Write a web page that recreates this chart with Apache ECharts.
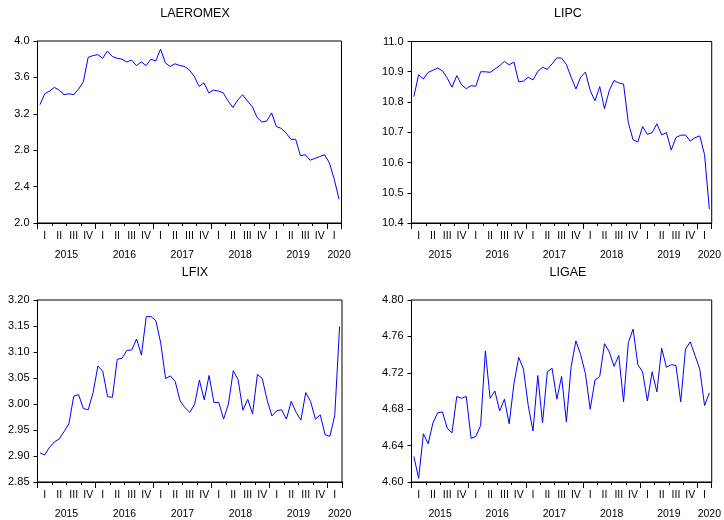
<!DOCTYPE html>
<html>
<head>
<meta charset="utf-8">
<script src="https://cdn.jsdelivr.net/npm/echarts@6/dist/echarts.min.js"></script>
<style>
html,body{margin:0;padding:0;background:#fff;}
#chart{width:724px;height:520px;}
</style>
</head>
<body>
<div id="chart"></div>
<script>
// ---- data ----
var years = ['2015', '2016', '2017', '2018', '2019', '2020'];
var quarterLabels = ['I', 'II', 'III', 'IV'];
var monthsPerYearShown = [12, 12, 12, 12, 12, 3];

var laeromex = [3.30, 3.42, 3.45, 3.49, 3.46, 3.41, 3.42, 3.41, 3.47, 3.55, 3.82, 3.84,
  3.85, 3.81, 3.89, 3.83, 3.81, 3.80, 3.77, 3.79, 3.73, 3.77, 3.73, 3.80,
  3.78, 3.91, 3.76, 3.72, 3.75, 3.73, 3.72, 3.68, 3.61, 3.50, 3.54, 3.43,
  3.46, 3.45, 3.43, 3.34, 3.27, 3.35, 3.41, 3.34, 3.28, 3.16, 3.11, 3.12,
  3.21, 3.06, 3.04, 2.99, 2.92, 2.92, 2.74, 2.75, 2.69, 2.71, 2.73, 2.75,
  2.66, 2.48, 2.26];

var lipc = [10.818, 10.890, 10.876, 10.898, 10.905, 10.912, 10.903, 10.879, 10.849, 10.887, 10.857, 10.844,
  10.854, 10.852, 10.900, 10.900, 10.898, 10.909, 10.920, 10.934, 10.923, 10.932, 10.867, 10.869,
  10.882, 10.873, 10.901, 10.915, 10.908, 10.926, 10.946, 10.945, 10.924, 10.882, 10.843, 10.882,
  10.899, 10.838, 10.804, 10.851, 10.778, 10.838, 10.871, 10.863, 10.859, 10.732, 10.675, 10.668,
  10.719, 10.693, 10.699, 10.728, 10.691, 10.699, 10.641, 10.683, 10.690, 10.691, 10.671, 10.682,
  10.688, 10.626, 10.446];

var lfix = [2.906, 2.902, 2.917, 2.927, 2.933, 2.947, 2.962, 3.015, 3.018, 2.991, 2.989, 3.022,
  3.073, 3.063, 3.014, 3.013, 3.086, 3.088, 3.103, 3.104, 3.125, 3.094, 3.168, 3.168,
  3.160, 3.117, 3.049, 3.054, 3.043, 3.006, 2.993, 2.984, 2.999, 3.046, 3.008, 3.055,
  3.003, 3.003, 2.971, 3.000, 3.064, 3.047, 2.988, 3.009, 2.981, 3.057, 3.049, 3.008,
  2.977, 2.987, 2.989, 2.971, 3.005, 2.984, 2.969, 3.022, 3.005, 2.971, 2.979, 2.941,
  2.938, 2.978, 3.149];

var ligae = [4.628, 4.604, 4.653, 4.642, 4.665, 4.676, 4.677, 4.659, 4.654, 4.694, 4.692, 4.694,
  4.648, 4.650, 4.662, 4.744, 4.692, 4.700, 4.678, 4.691, 4.664, 4.708, 4.737, 4.724,
  4.684, 4.656, 4.717, 4.665, 4.721, 4.725, 4.691, 4.716, 4.666, 4.727, 4.755, 4.740,
  4.719, 4.680, 4.712, 4.716, 4.752, 4.743, 4.727, 4.739, 4.688, 4.753, 4.768, 4.729,
  4.721, 4.689, 4.721, 4.699, 4.747, 4.726, 4.729, 4.728, 4.688, 4.746, 4.754, 4.739,
  4.724, 4.684, 4.698];

// ---- categories (months) ----
var months = [];
years.forEach(function (y, yi) {
  for (var m = 1; m <= monthsPerYearShown[yi]; m++) {
    months.push(y + 'M' + (m < 10 ? '0' + m : m));
  }
});

var panels = [
  { name: 'LAEROMEX', data: laeromex, min: 2.0, max: 4.0, interval: 0.4, dec: 1,
    grid: { left: 37.5, top: 41, width: 304, height: 182 }, titleX: 190, titleY: 2 },
  { name: 'LIPC', data: lipc, min: 10.4, max: 11.0, interval: 0.1, dec: 1,
    grid: { left: 411.5, top: 41.5, width: 303.5, height: 181.5 }, titleX: 563, titleY: 2 },
  { name: 'LFIX', data: lfix, min: 2.85, max: 3.20, interval: 0.05, dec: 2,
    grid: { left: 37.5, top: 300, width: 304.5, height: 182 }, titleX: 190, titleY: 261 },
  { name: 'LIGAE', data: ligae, min: 4.60, max: 4.80, interval: 0.04, dec: 2,
    grid: { left: 411.5, top: 300, width: 303.5, height: 182 }, titleX: 563, titleY: 261 }
];

var FONT = 'Liberation Sans';
var option = { animation: false, title: [], grid: [], xAxis: [], yAxis: [], series: [] };

function yearPos(yi) {
  var p = yi * 12 + 6;
  if (p > 62.5) p = 62.5;
  if (yi === 4) p = 54;
  return p;
}

panels.forEach(function (p, gi) {
  option.title.push({
    text: p.name, left: p.titleX, top: p.titleY, textAlign: 'center',
    textStyle: { fontFamily: FONT, fontSize: 12.5, fontWeight: 'normal', color: '#000' }
  });
  option.grid.push({
    left: p.grid.left, top: p.grid.top, width: p.grid.width, height: p.grid.height,
    show: true, borderColor: '#000', borderWidth: 1, backgroundColor: '#fff'
  });
  var xBase = option.xAxis.length;
  // quarter ticks + labels
  option.xAxis.push({
    type: 'category', gridIndex: gi, data: months, boundaryGap: true, position: 'bottom',
    axisLine: { show: true, onZero: false, lineStyle: { color: '#000', width: 1 } },
    axisTick: { show: true, length: 3, interval: function (i) { return i % 3 === 0; },
      lineStyle: { color: '#000' } },
    axisLabel: {
      show: true, interval: function (i) { return i % 3 === 1; },
      margin: 8, fontFamily: FONT, fontSize: 10.5, color: '#000',
      formatter: function (v, i) { return quarterLabels[Math.floor((i % 12) / 3)]; }
    },
    splitLine: { show: false }
  });
  // year ticks
  option.xAxis.push({
    type: 'category', gridIndex: gi, data: months, boundaryGap: true, position: 'bottom',
    axisLine: { show: false, onZero: false },
    axisTick: { show: true, length: 6, interval: function (i) { return i % 12 === 0; },
      lineStyle: { color: '#000' } },
    axisLabel: { show: false }, splitLine: { show: false }
  });
  // year labels
  option.xAxis.push({
    type: 'value', gridIndex: gi, min: 0, max: months.length, interval: 0.5, position: 'bottom',
    axisLine: { show: false, onZero: false }, axisTick: { show: false }, splitLine: { show: false },
    axisLabel: {
      show: true, margin: 27, fontFamily: FONT, fontSize: 10.5, color: '#000',
      showMinLabel: false, showMaxLabel: false,
      formatter: function (v) {
        for (var k = 0; k < years.length; k++) {
          if (Math.abs(yearPos(k) - v) < 1e-6) return years[k];
        }
        return '';
      }
    }
  });
  option.yAxis.push({
    type: 'value', gridIndex: gi, min: p.min, max: p.max, interval: p.interval, position: 'left',
    axisLine: { show: true, onZero: false, lineStyle: { color: '#000', width: 1 } },
    axisTick: { show: true, length: 4, lineStyle: { color: '#000' } },
    splitLine: { show: false },
    axisLabel: {
      margin: 8, fontFamily: FONT, fontSize: 11, color: '#000',
      formatter: (function (d) { return function (v) { return v.toFixed(d); }; })(p.dec)
    }
  });
  option.series.push({
    type: 'line', xAxisIndex: xBase, yAxisIndex: gi, data: p.data,
    showSymbol: false, symbol: 'none', smooth: false,
    lineStyle: { color: '#0000ff', width: 1 }, itemStyle: { color: '#0000ff' }
  });
});

var chart = echarts.init(document.getElementById('chart'), null, { renderer: 'canvas' });
chart.setOption(option);
</script>
</body>
</html>
